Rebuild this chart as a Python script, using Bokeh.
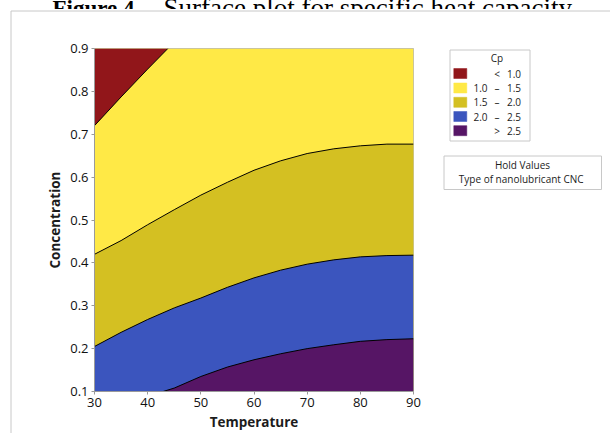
from bokeh.plotting import figure
from bokeh.models import Range1d, FixedTicker, PrintfTickFormatter
from bokeh.core.properties import value
from bokeh.embed import file_html
from bokeh.resources import INLINE

# ---------------- data ----------------
temp_range = [30, 90]
conc_range = [0.1, 0.9]
temp_ticks = [30, 40, 50, 60, 70, 80, 90]
conc_ticks = [0.1, 0.2, 0.3, 0.4, 0.5, 0.6, 0.7, 0.8, 0.9]

# contour boundaries: concentration at which Cp crosses each level
temp = [30, 35, 40, 45, 50, 55, 60, 65, 70, 75, 80, 85, 90]
cp15_conc = [0.420, 0.452, 0.489, 0.524, 0.558, 0.588, 0.616, 0.638, 0.655, 0.666, 0.673, 0.677, 0.677]
cp20_conc = [0.205, 0.238, 0.268, 0.295, 0.318, 0.343, 0.365, 0.383, 0.397, 0.407, 0.414, 0.417, 0.418]
cp10_temp = [30, 35, 40, 43.8]
cp10_conc = [0.720, 0.787, 0.852, 0.900]
cp25_temp = [42.9, 45, 50, 55, 60, 65, 70, 75, 80, 85, 90]
cp25_conc = [0.100, 0.108, 0.135, 0.157, 0.174, 0.188, 0.200, 0.209, 0.217, 0.221, 0.223]

legend_title = "Cp"
legend_lo = ["", "1.0", "1.5", "2.0", ""]
legend_op = ["<", "\u2013", "\u2013", "\u2013", ">"]
legend_hi = ["1.0", "1.5", "2.0", "2.5", "2.5"]
legend_colors = ["#91161A", "#FFE946", "#D4C022", "#3B55BE", "#561565"]

hold_title = "Hold Values"
hold_text = "Type of nanolubricant  CNC"
fig_title_bold = "Figure 4."
fig_title_rest = "Surface plot for specific heat capacity."

# ---------------- layout (page pixels) ----------------
W, H = 610, 433
FX0, FX1, FY0, FY1 = 94, 413, 48, 391
FONT = "Open Sans"
TXT = "#1c1c1c"


def X(px):
    return temp_range[0] + (px - FX0) * (temp_range[1] - temp_range[0]) / (FX1 - FX0)


def Y(py):
    return conc_range[1] - (py - FY0) * (conc_range[1] - conc_range[0]) / (FY1 - FY0)


p = figure(width=W, height=H,
           x_range=Range1d(*temp_range), y_range=Range1d(*conc_range),
           output_backend="svg", toolbar_location=None,
           min_border_left=FX0, min_border_right=W - FX1,
           min_border_top=FY0, min_border_bottom=H - FY1,
           margin=(0, 0, 0, 0))
p.grid.visible = False
p.background_fill_color = "white"
p.border_fill_color = "white"
p.outline_line_color = "#a8a8a8"
p.outline_line_alpha = 0.8

# ---------------- filled contour bands ----------------
ylo = [conc_range[0]] * len(temp)
yhi = [conc_range[1]] * len(temp)
p.varea(x=temp, y1=ylo, y2=yhi, fill_color=legend_colors[1])
p.varea(x=temp, y1=ylo, y2=cp15_conc, fill_color=legend_colors[2])
p.varea(x=temp, y1=ylo, y2=cp20_conc, fill_color=legend_colors[3])
p.varea(x=cp25_temp, y1=[conc_range[0]] * len(cp25_temp), y2=cp25_conc, fill_color=legend_colors[4])
p.varea(x=cp10_temp, y1=cp10_conc, y2=[conc_range[1]] * len(cp10_temp), fill_color=legend_colors[0])

for xs, ys in [(temp, cp15_conc), (temp, cp20_conc), (cp10_temp, cp10_conc), (cp25_temp, cp25_conc)]:
    p.line(xs, ys, line_color="black", line_width=1)

# ---------------- axes ----------------
for ax in (p.xaxis[0], p.yaxis[0]):
    ax.axis_line_color = "#9a9a9a"
    ax.major_tick_line_color = "#9a9a9a"
    ax.major_tick_out = 3
    ax.major_tick_in = 0
    ax.minor_tick_line_color = None
    ax.major_label_text_font = FONT
    ax.major_label_text_font_size = "13px"
    ax.major_label_text_color = "#111111"
    ax.axis_label_text_font = FONT
    ax.axis_label_text_font_size = "13.5px"
    ax.axis_label_text_font_style = "bold"
    ax.axis_label_text_color = TXT
    ax.major_label_standoff = 3
    ax.axis_label_standoff = 3
p.xaxis.ticker = FixedTicker(ticks=temp_ticks)
p.yaxis.ticker = FixedTicker(ticks=conc_ticks)
p.yaxis.formatter = PrintfTickFormatter(format="%.1f")
p.xaxis.axis_label = "Temperature"
p.yaxis.axis_label = "Concentration"


def txt(px, py, s, size="10px", align="center", font=FONT, style="normal",
        baseline="middle", color=TXT):
    p.text(x=[X(px)], y=[Y(py)], text=[s], text_font=value(font), text_font_size=size,
           text_font_style=style, text_align=align, text_baseline=baseline,
           text_color=color, level="overlay")


# ---------------- title (mostly cut off at top, as in the reference) ----------------
txt(52, 7.5, fig_title_bold, size="23px", align="left", font="Liberation Serif",
    style="bold", baseline="alphabetic", color="black")
txt(163, 7.5, fig_title_rest, size="27px", align="left", font="Liberation Serif",
    baseline="alphabetic", color="black")

# white cover under title and outer gray frame
p.quad(left=[X(0)], right=[X(W)], top=[Y(8.5)], bottom=[Y(30)],
       fill_color="white", line_color=None, level="overlay")
p.line([X(10.5), X(10.5), X(W)], [Y(H + 10), Y(10.5), Y(10.5)],
       line_color="#c8c8c8", line_width=1, level="overlay")

# ---------------- legend ----------------
p.quad(left=[X(449.5)], right=[X(529.5)], top=[Y(49.5)], bottom=[Y(140.5)],
       fill_alpha=0, line_color="#c8c8c8", line_width=1, level="overlay")
txt(496.5, 57, legend_title)
row_y = [73, 87.5, 101.8, 116, 130.2]
for i, yy in enumerate(row_y):
    p.quad(left=[X(453.3)], right=[X(466.3)], top=[Y(yy - 5)], bottom=[Y(yy + 5)],
           fill_color=legend_colors[i], line_color=legend_colors[i], line_alpha=0.5,
           level="overlay")
    if legend_lo[i]:
        txt(487, yy, legend_lo[i], align="right")
    txt(496.5, yy, legend_op[i])
    txt(520.5, yy, legend_hi[i], align="right")

# ---------------- hold values box ----------------
p.quad(left=[X(443.5)], right=[X(601)], top=[Y(155.5)], bottom=[Y(189)],
       fill_alpha=0, line_color="#c8c8c8", line_width=1, level="overlay")
txt(522, 164.5, hold_title)
txt(522, 178.5, hold_text)

open("out.html", "w").write(file_html(p, INLINE))
